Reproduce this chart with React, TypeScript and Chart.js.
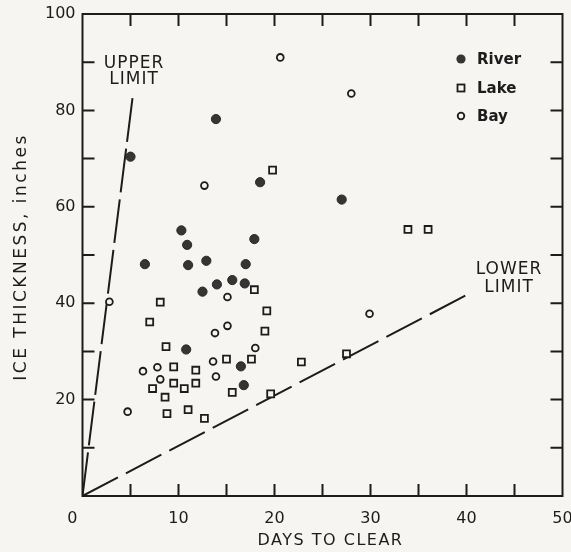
import React, { useEffect, useRef } from 'react';
import { Chart, registerables } from 'chart.js';

Chart.register(...registerables);

// ---- data ----
const riverDays = [5.0, 13.9, 18.5, 27.0, 10.3, 10.9, 17.9, 6.5, 11.0, 12.9, 17.0, 12.5, 14.0, 15.6, 16.9, 10.8, 16.5, 16.8];
const riverThickness = [70.4, 78.2, 65.1, 61.5, 55.1, 52.1, 53.3, 48.1, 47.9, 48.8, 48.1, 42.4, 43.9, 44.8, 44.1, 30.4, 26.9, 23.0];

const lakeDays = [19.8, 33.9, 36.0, 17.9, 8.1, 7.0, 19.2, 19.0, 8.7, 9.5, 11.8, 15.0, 17.6, 7.3, 9.5, 10.6, 11.8, 8.6, 15.6, 8.8, 11.0, 12.7, 19.6, 22.8, 27.5];
const lakeThickness = [67.6, 55.3, 55.3, 42.8, 40.2, 36.1, 38.4, 34.2, 31.0, 26.8, 26.1, 28.4, 28.4, 22.3, 23.4, 22.3, 23.4, 20.5, 21.5, 17.1, 17.9, 16.1, 21.2, 27.8, 29.5];

const bayDays = [20.6, 28.0, 12.7, 2.8, 15.1, 13.8, 15.1, 18.0, 6.3, 7.8, 8.1, 13.6, 13.9, 4.7, 29.9];
const bayThickness = [91.0, 83.5, 64.4, 40.3, 41.3, 33.8, 35.3, 30.7, 25.9, 26.7, 24.2, 27.9, 24.8, 17.5, 37.8];

const upperLimitDays = [0, 5.3];
const upperLimitThickness = [0, 84];
const lowerLimitDays = [0, 40.3];
const lowerLimitThickness = [0, 42];

const seriesNames = ['River', 'Lake', 'Bay'];
const xTitle = 'DAYS TO CLEAR';
const yTitle = 'ICE THICKNESS, inches';
const upperLabel = ['UPPER', 'LIMIT'];
const lowerLabel = ['LOWER', 'LIMIT'];

const X_MIN = 0, X_MAX = 50, X_LABEL_STEP = 10, X_MINOR_STEP = 5;
const Y_MIN = 0, Y_MAX = 100, Y_LABEL_STEP = 20, Y_MINOR_STEP = 10;

const PAPER = '#f6f5f1';
const INK = '#1c1c1c';
const DOT = '#353535';

const pts = (xs: number[], ys: number[]) => xs.map((x, i) => ({ x, y: ys[i] }));

const paperPlugin = {
  id: 'paper',
  beforeDraw(chart: any) {
    const { ctx, width, height } = chart;
    ctx.save();
    ctx.fillStyle = PAPER;
    ctx.fillRect(0, 0, width, height);
    ctx.restore();
  },
};

const decorPlugin = {
  id: 'decor',
  afterDraw(chart: any) {
    const { ctx, chartArea, scales } = chart;
    const { left, right, top, bottom } = chartArea;
    const xs = scales.x, ys = scales.y;
    ctx.save();
    ctx.strokeStyle = INK;
    ctx.lineWidth = 2;
    ctx.lineCap = 'butt';
    ctx.strokeRect(left, top, right - left, bottom - top);
    const T = 12;
    ctx.beginPath();
    for (let v = X_MIN + X_MINOR_STEP; v < X_MAX; v += X_MINOR_STEP) {
      const px = xs.getPixelForValue(v);
      ctx.moveTo(px, bottom); ctx.lineTo(px, bottom - T);
      ctx.moveTo(px, top); ctx.lineTo(px, top + T);
    }
    for (let v = Y_MIN + Y_MINOR_STEP; v < Y_MAX; v += Y_MINOR_STEP) {
      const py = ys.getPixelForValue(v);
      ctx.moveTo(left, py); ctx.lineTo(left + T, py);
      ctx.moveTo(right, py); ctx.lineTo(right - T, py);
    }
    ctx.stroke();

    ctx.fillStyle = INK;
    // annotation labels
    ctx.font = '17px "DejaVu Sans"';
    (ctx as any).letterSpacing = '1px';
    ctx.textAlign = 'center';
    ctx.textBaseline = 'middle';
    ctx.fillText(upperLabel[0], 134, 64);
    ctx.fillText(upperLabel[1], 134, 80);
    ctx.fillText(lowerLabel[0], 509, 270);
    ctx.fillText(lowerLabel[1], 509, 288);

    // axis titles
    ctx.font = '16px "DejaVu Sans"';
    (ctx as any).letterSpacing = '1.5px';
    ctx.fillText(xTitle, (left + right) / 2 + 8, 541);
    ctx.save();
    ctx.translate(22, 257);
    ctx.rotate(-Math.PI / 2);
    ctx.font = '17px "DejaVu Sans"';
    (ctx as any).letterSpacing = '2.5px';
    ctx.fillText(yTitle, 0, 0);
    ctx.restore();

    // legend
    (ctx as any).letterSpacing = '0px';
    const lx = 461, tx = 477;
    const rows = [59, 88, 116];
    ctx.font = 'bold 15px "DejaVu Sans"';
    ctx.textAlign = 'left';
    seriesNames.forEach((name, i) => {
      const yy = rows[i];
      ctx.beginPath();
      if (i === 0) {
        ctx.fillStyle = DOT;
        ctx.arc(lx, yy, 4.6, 0, Math.PI * 2);
        ctx.fill();
      } else if (i === 1) {
        ctx.lineWidth = 1.8;
        ctx.strokeStyle = INK;
        ctx.strokeRect(lx - 3.5, yy - 3.5, 7, 7);
      } else {
        ctx.lineWidth = 1.8;
        ctx.strokeStyle = INK;
        ctx.arc(lx, yy, 3.3, 0, Math.PI * 2);
        ctx.stroke();
      }
      ctx.fillStyle = INK;
      ctx.fillText(name, tx, yy + 1);
    });
    ctx.restore();
  },
};

export default function App() {
  const ref = useRef<HTMLCanvasElement>(null);
  useEffect(() => {
    const canvas = ref.current!;
    const chart = new Chart(canvas, {
      type: 'scatter',
      data: {
        datasets: [
          {
            label: seriesNames[0],
            data: pts(riverDays, riverThickness),
            pointStyle: 'circle',
            pointRadius: 4.6,
            pointBackgroundColor: DOT,
            pointBorderColor: '#2a2a2a',
            pointBorderWidth: 1,
          },
          {
            label: seriesNames[1],
            data: pts(lakeDays, lakeThickness),
            pointStyle: 'rect',
            pointRadius: 4.9,
            pointBackgroundColor: PAPER,
            pointBorderColor: INK,
            pointBorderWidth: 1.8,
          },
          {
            label: seriesNames[2],
            data: pts(bayDays, bayThickness),
            pointStyle: 'circle',
            pointRadius: 3.4,
            pointBackgroundColor: PAPER,
            pointBorderColor: INK,
            pointBorderWidth: 1.8,
          },
          {
            label: 'Upper limit',
            data: pts(upperLimitDays, upperLimitThickness),
            showLine: true,
            pointRadius: 0,
            borderColor: INK,
            borderWidth: 2,
            borderDash: [44, 7],
          },
          {
            label: 'Lower limit',
            data: pts(lowerLimitDays, lowerLimitThickness),
            showLine: true,
            pointRadius: 0,
            borderColor: INK,
            borderWidth: 2,
            borderDash: [40, 9],
          },
        ],
      },
      options: {
        responsive: false,
        animation: false,
        devicePixelRatio: 1,
        layout: { padding: { top: 14, right: 8.5, left: 0, bottom: 0 } },
        plugins: { legend: { display: false }, tooltip: { enabled: false } },
        scales: {
          x: {
            type: 'linear',
            min: X_MIN,
            max: X_MAX,
            grid: { display: false, drawTicks: false },
            border: { display: false },
            ticks: {
              stepSize: X_LABEL_STEP,
              padding: 13,
              color: INK,
              font: { family: '"DejaVu Sans"', size: 16 },
              maxRotation: 0,
              callback: (v: any) => (v === 0 ? '0    ' : String(v)),
            },
            afterFit: (s: any) => {
              s.height = 56;
              s.paddingLeft = 0;
              s.paddingRight = 0;
            },
          },
          y: {
            type: 'linear',
            min: Y_MIN,
            max: Y_MAX,
            grid: { display: false, drawTicks: false },
            border: { display: false },
            ticks: {
              stepSize: Y_LABEL_STEP,
              padding: 7,
              color: INK,
              font: { family: '"DejaVu Sans"', size: 16 },
              callback: (v: any) => (v === 0 ? '' : String(v)),
            },
            afterFit: (s: any) => {
              s.width = 82.5;
              s.paddingTop = 0;
              s.paddingBottom = 0;
            },
          },
        },
      },
      plugins: [paperPlugin, decorPlugin],
    } as any);
    return () => chart.destroy();
  }, []);
  return (
    <div style={{ position: 'fixed', left: 0, top: 0, width: 571, height: 552, background: PAPER }}>
      <canvas ref={ref} width={571} height={552} style={{ display: 'block', width: 571, height: 552 }} />
    </div>
  );
}
